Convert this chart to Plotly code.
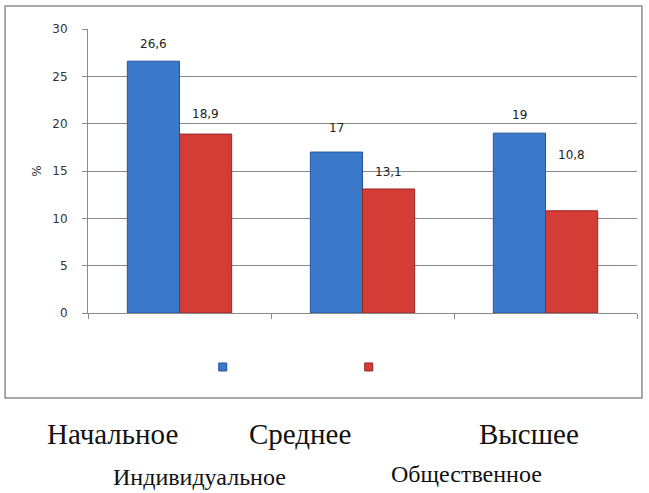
import plotly.graph_objects as go

categories = ["Начальное", "Среднее", "Высшее"]
series_names = ["Индивидуальное", "Общественное"]
individual = [26.6, 17, 19]
social = [18.9, 13.1, 10.8]
y_ticks = [0, 5, 10, 15, 20, 25, 30]

# style
colors = ["#3a78c9", "#d43c36"]
line_colors = ["#24569a", "#962624"]
label_shift = [[17, 24, 18], [20, 17, 56]]
bargap = 0.43
cat_label_x = [0.044, 0.386, 0.803]
name_x = [0.204, 0.689]
name_y = [-0.576, -0.566]

fig = go.Figure()
for vals, name, c, lc in zip([individual, social], series_names, colors, line_colors):
    fig.add_trace(go.Bar(x=categories, y=vals, name=name, marker=dict(color=c, line=dict(color=lc, width=1)),
                         showlegend=False))
# legend markers only
for c, lc in zip(colors, line_colors):
    fig.add_trace(go.Scatter(x=[None], y=[None], mode="markers", name="",
                             marker=dict(symbol="square", size=8, color=c, line=dict(color=lc, width=1))))

w = (1 - bargap) / 2
annotations = []
for s, vals in enumerate([individual, social]):
    for i, v in enumerate(vals):
        annotations.append(dict(x=i + (s - 0.5) * w, y=v, xref="x", yref="y", text=f"{v:g}".replace(".", ","),
                                showarrow=False, yshift=label_shift[s][i], yanchor="middle",
                                font=dict(family="DejaVu Sans", size=12, color="#222222")))
for cat, cx in zip(categories, cat_label_x):
    annotations.append(dict(x=cx, y=-0.426, xref="paper", yref="paper", text=cat, showarrow=False,
                            xanchor="center", yanchor="middle",
                            font=dict(family="Liberation Serif", size=29, color="#111111")))
for nm, nx, ny in zip(series_names, name_x, name_y):
    annotations.append(dict(x=nx, y=ny, xref="paper", yref="paper", text=nm, showarrow=False,
                            xanchor="center", yanchor="middle",
                            font=dict(family="Liberation Serif", size=24, color="#111111")))

fig.update_layout(
    width=649, height=493,
    margin=dict(l=88, r=12, t=29, b=180),
    paper_bgcolor="white", plot_bgcolor="white",
    barmode="group", bargap=bargap, bargroupgap=0,
    annotations=annotations,
    legend=dict(orientation="h", x=0.209, y=-0.19, xanchor="left", yanchor="middle",
                entrywidth=101, entrywidthmode="pixels", itemwidth=30,
                bgcolor="rgba(0,0,0,0)", font=dict(size=10)),
    shapes=[dict(type="rect", xref="paper", yref="paper", x0=-0.151, x1=1.009, y0=-0.299, y1=1.081,
                 line=dict(color="#8c8c8c", width=1.5), layer="below")],
)
fig.update_yaxes(range=[0, 30], tickvals=y_ticks, showgrid=True, gridcolor="#8a8a8a", gridwidth=1,
                 showline=True, linecolor="#8a8a8a", linewidth=1, ticks="outside", ticklen=5, tickcolor="#8a8a8a",
                 ticklabelstandoff=12, zeroline=False,
                 tickfont=dict(family="DejaVu Sans", size=12, color="#333333"),
                 title=dict(text="%", standoff=8, font=dict(family="DejaVu Sans", size=12, color="#333333")))
fig.update_xaxes(showticklabels=False, showline=True, linecolor="#8a8a8a", linewidth=1,
                 ticks="outside", ticklen=5, tickcolor="#8a8a8a", tickson="boundaries", showgrid=False)

fig.write_html("out.html", config={"displayModeBar": False},
               post_script="document.body.style.margin='0';")
